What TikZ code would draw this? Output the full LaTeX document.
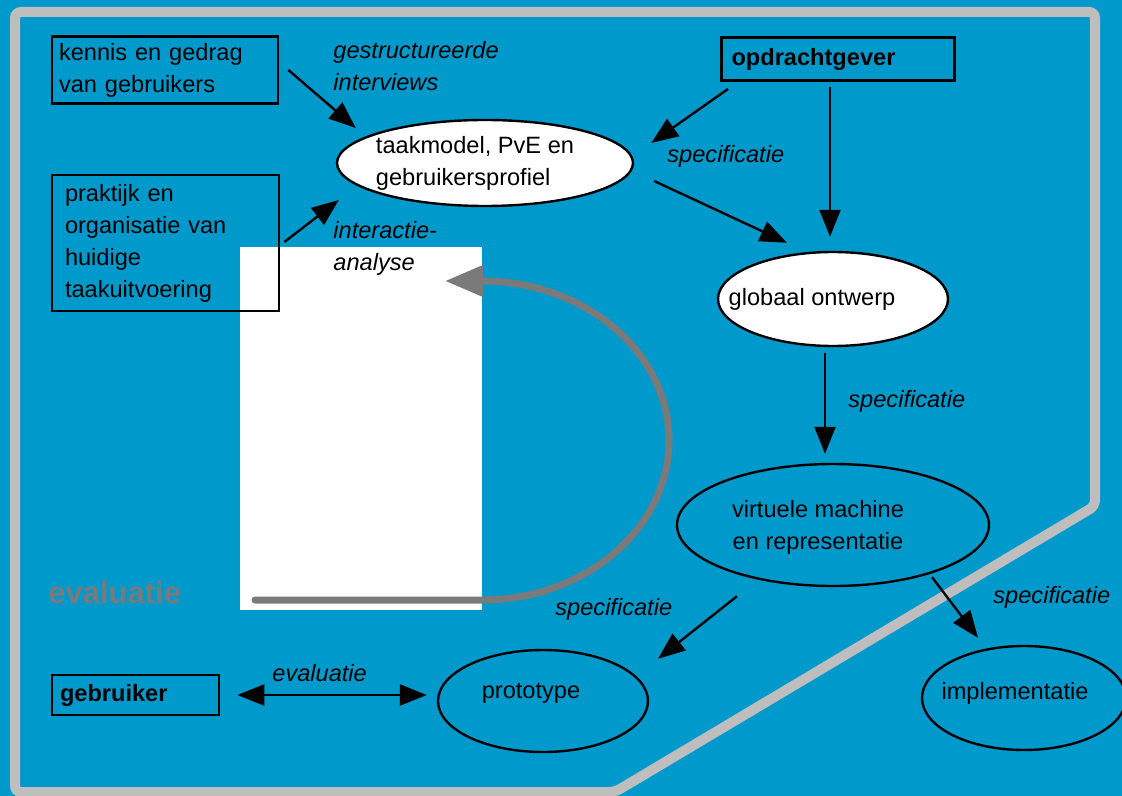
\documentclass[tikz,border=0pt]{standalone}
\usepackage{fontspec}
\setmainfont{Liberation Sans}
\usetikzlibrary{arrows.meta,shapes.geometric}
\definecolor{bgblue}{RGB}{0,153,204}
\definecolor{framegray}{RGB}{190,190,190}
\definecolor{loopgray}{RGB}{122,122,122}

\begin{document}
\begin{tikzpicture}[x=0.5pt,y=-0.5pt,
  font=\fontsize{11.8}{16}\selectfont,
  box/.style={draw=black,line width=1.4pt,rectangle,align=left},
  oval/.style={draw=black,line width=1.2pt,ellipse,inner sep=0pt},
  intext/.style={inner sep=0pt,align=left},
  lbl/.style={inner sep=0pt,anchor=west,align=left,font=\fontsize{11.8}{16}\selectfont\itshape},
  arr/.style={line width=1.2pt,-{Triangle[length=13.5pt,width=10.5pt]}},
  dblarr/.style={line width=1.2pt,{Triangle[length=13.5pt,width=10.5pt]}-{Triangle[length=13.5pt,width=10.5pt]}}]
  \useasboundingbox (0,0) rectangle (1122,796);
  \fill[bgblue] (0,0) rectangle (1122,796);
  % frame
  \draw[framegray,line width=5pt,rounded corners=3pt]
    (15,12) -- (1095,12) -- (1095,506) -- (615,792) -- (15,792) -- cycle;
  \fill[white] (240,247) rectangle (482,610);

  % sources
  \node[box,text width=106pt,inner xsep=3.5pt,minimum height=33pt] (kennis) at (165,70)
    {kennis en gedrag\\van gebruikers};
  \node[box,text width=100.5pt,inner xsep=6.5pt,minimum height=68pt] (praktijk) at (165.5,243)
    {praktijk en\\organisatie van\\huidige\\taakuitvoering};
  \node[box,text width=106.5pt,inner xsep=5pt,minimum height=21.5pt,font=\fontsize{11.8}{16}\selectfont\bfseries] (opdr) at (838,59)
    {opdrachtgever};
  \node[box,text width=75.5pt,inner xsep=4pt,minimum height=20pt,font=\fontsize{11.8}{16}\selectfont\bfseries] (gebr) at (135.5,695)
    {gebruiker};

  % products
  \node[oval,fill=white,minimum width=148pt,minimum height=43pt,
    label={[intext,xshift=-5pt]center:{taakmodel, PvE en\\gebruikersprofiel}}] (taak) at (485,163) {};
  \node[oval,fill=white,minimum width=115pt,minimum height=47pt,
    label={[intext,xshift=-10.5pt]center:{globaal ontwerp}}] (glob) at (833,299) {};
  \node[oval,minimum width=156pt,minimum height=61pt,
    label={[intext,align=center,xshift=-7.5pt,yshift=-1pt]center:{virtuele machine\\en representatie}}] (virt) at (833,525) {};
  \node[oval,minimum width=105pt,minimum height=51pt,
    label={[intext,xshift=-6pt,yshift=4pt]center:prototype}] (proto) at (543,701) {};
  \node[oval,minimum width=102pt,minimum height=52pt,
    label={[intext,xshift=-4.5pt,yshift=2.5pt]center:implementatie}] (impl) at (1024,698) {};

  % labels
  \node[lbl] (interv) at (333,66) {gestructureerde\\interviews};
  \node[lbl] (inter) at (333,248) {interactie-\\analyse};
  \node[lbl] (spec1) at (667,156) {specificatie};
  \node[lbl] (spec2) at (848,401) {specificatie};
  \node[lbl] (spec3) at (555,609) {specificatie};
  \node[lbl] (spec4) at (993,597) {specificatie};
  \node[lbl] (evalpijl) at (272,673) {evaluatie};
  \node[inner sep=0pt,anchor=west,text=loopgray,font=\fontsize{15.5}{18}\selectfont\bfseries] (evalgrijs) at (48,592) {evaluatie};

  % evaluation loop
  \coordinate (loopin) at (255,600);
  \coordinate (loopout) at (445,281);
  \draw[loopgray,line width=3.5pt,line cap=round,-{Triangle[length=19pt,width=15pt]}]
    (loopin) -- (482,600) .. controls (585,600) and (669,528.6) .. (669,440.5)
    .. controls (669,352.4) and (585,281) .. (482,281) -- (loopout);

  % connectors
  \draw[arr] ([shift={(9,0)}]kennis.east) -- ([shift={(20,-35)}]taak.west);
  \draw[arr] ([shift={(4,-1)}]praktijk.east) -- ([shift={(3,37)}]taak.west);
  \draw[arr] ([shift={(8,7)}]opdr.south west) -- ([shift={(17,-20)}]taak.east);
  \draw[arr] ([shift={(-8,5)}]opdr.south) -- ([shift={(-3,-14)}]glob.north);
  \draw[arr] ([shift={(20,18)}]taak.east) -- ([shift={(-46,-8)}]glob.north);
  \draw[arr] ([shift={(-8,6)}]glob.south) -- ([shift={(-8,-9)}]virt.north);
  \draw[arr] ([shift={(-96,9)}]virt.south) -- ([shift={(115,10)}]proto.north);
  \draw[arr] ([shift={(99,-10)}]virt.south) -- ([shift={(-46,-7)}]impl.north);
  \draw[dblarr] ([shift={(17,0)}]gebr.east) -- ([shift={(-10,-6)}]proto.west);
\end{tikzpicture}
\end{document}
